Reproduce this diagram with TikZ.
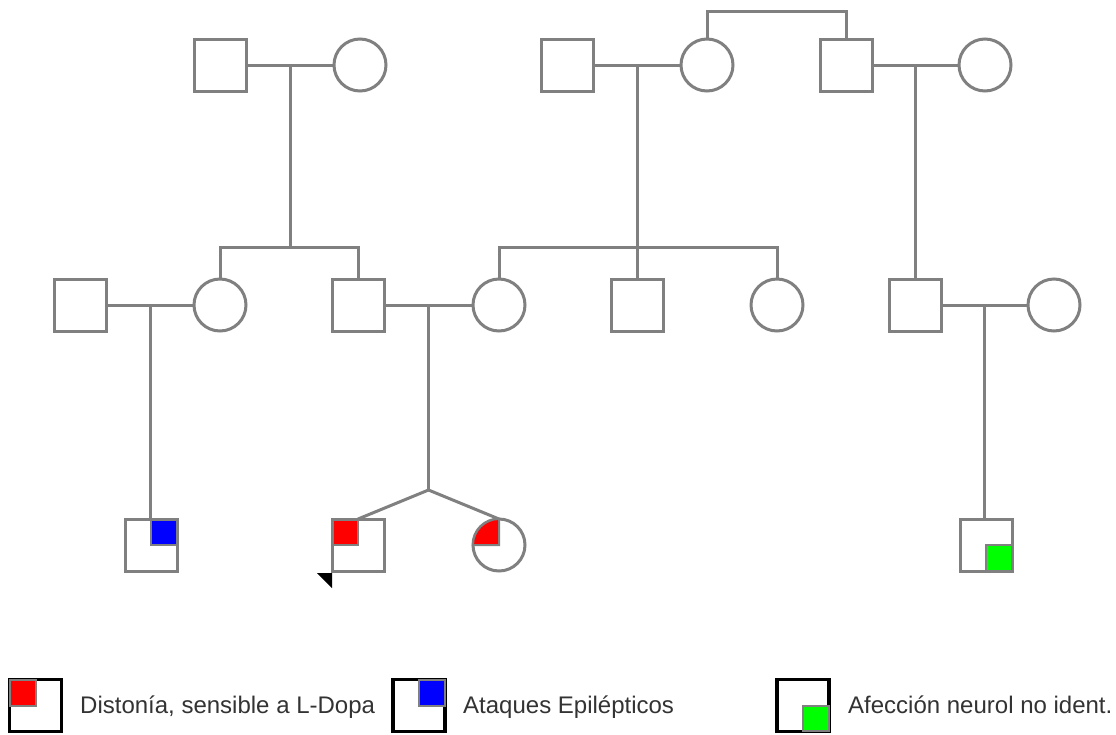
\documentclass[tikz,border=0pt]{standalone}
\usepackage{fontspec}
\setmainfont{Liberation Sans}
\usetikzlibrary{calc}
\definecolor{lg}{HTML}{808080}
\definecolor{txt}{HTML}{333333}
\definecolor{ared}{HTML}{FF0000}
\definecolor{ablue}{HTML}{0000FF}
\definecolor{agreen}{HTML}{00FF00}
\begin{document}
\begin{tikzpicture}[x=1pt,y=-1pt,
  ind/.style={draw=lg, line width=3pt, minimum size=52pt, inner sep=0pt, outer sep=0pt, fill=white},
  male/.style={ind, rectangle},
  female/.style={ind, circle},
  rel/.style={draw=lg, line width=3pt},
  quad/.style={draw=lg, line width=2pt},
  legbox/.style={draw=black, line width=3.5pt, minimum size=52pt, inner sep=0pt, outer sep=0pt},
  legtext/.style={anchor=base west, text=txt, font=\fontsize{24}{28}\selectfont, inner sep=0pt}]
\useasboundingbox (0,0) rectangle (1116,734);
\clip (0,0) rectangle (1116,734);
\fill[white] (0,0) rectangle (1116,734);

% Generation I
\node[male]   (A) at (220,65) {};
\node[female] (B) at (360,65) {};
\node[male]   (C) at (567,65) {};
\node[female] (D) at (707,65) {};
\node[male]   (E) at (846,65) {};
\node[female] (F) at (985,65) {};

% Generation II
\node[male]   (H) at (80,305) {};
\node[female] (I) at (220,305) {};
\node[male]   (J) at (358,305) {};
\node[female] (K) at (499,305) {};
\node[male]   (L) at (637,305) {};
\node[female] (M) at (777,305) {};
\node[male]   (G) at (915,305) {};
\node[female] (N) at (1054,305) {};

% Generation III
\node[male]   (P) at (151,545) {};
\node[male]   (Q) at (358,545) {};
\node[female] (R) at (499,545) {};
\node[male]   (S) at (986,545) {};

% couples
\draw[rel] (A.east) -- (B.west);
\draw[rel] (C.east) -- (D.west);
\draw[rel] (E.east) -- (F.west);
\draw[rel] (H.east) -- (I.west);
\draw[rel] (J.east) -- (K.west);
\draw[rel] (G.east) -- (N.west);

\coordinate (ab) at ($(A.east)!.5!(B.west)$);
\coordinate (cd) at ($(C.east)!.5!(D.west)$);
\coordinate (ef) at ($(E.east)!.5!(F.west)$);
\coordinate (hi) at ($(H.east)!.5!(I.west)$);
\coordinate (jk) at ($(J.east)!.5!(K.west)$);
\coordinate (gn) at ($(G.east)!.5!(N.west)$);
\coordinate (s1) at ($(ab)+(0,182)$);
\coordinate (s2) at ($(cd)+(0,182)$);
\coordinate (tw) at ($(jk)+(0,185)$);

% sibship of D and E
\draw[rel] (D.north) -- ++(0,-28) -| (E.north);

% descent lines
\draw[rel] (ab) -- (s1);
\draw[rel] (I.north) |- (s1) -| (J.north);
\draw[rel] (cd) -- (s2);
\draw[rel] (K.north) |- (s2) -| (M.north);
\draw[rel] (s2) -- (s2 -| L.north) -- (L.north);
\draw[rel] (ef) -- (ef |- G.north);
\draw[rel] (hi) -- (hi |- P.north);
\draw[rel] (jk) -- (tw);
\draw[rel] (tw) -- (Q.north);
\draw[rel] (tw) -- (R.north);
\draw[rel] (gn) -- (gn |- S.north);

% affection markers
\draw[quad, fill=ablue] (P.center) rectangle ($(P.north east)+(-0.5,0.5)$);
\draw[quad, fill=ared] (Q.center) rectangle ($(Q.north west)+(0.5,0.5)$);
\draw[quad, fill=ared] (R.center) -- (R.west) arc[start angle=180, end angle=270, radius=26] -- cycle;
\draw[quad, fill=agreen] (S.center) rectangle ($(S.south east)+(-0.5,-0.5)$);

% proband arrow head
\fill[black] ($(Q.south west)+(-15,2)$) -- ($(Q.south west)+(0,2)$) -- ($(Q.south west)+(0,17)$) -- cycle;

% legend
\node[legbox] (L1) at (35.5,705.5) {};
\draw[quad, fill=ared] ($(L1.north west)+(0.5,0.5)$) rectangle (L1.center);
\node[legtext] (T1) at (80,713) {Distonía, sensible a L-Dopa};

\node[legbox] (L2) at (419,705.5) {};
\draw[quad, fill=ablue] ($(L2.north east)+(-0.5,0.5)$) rectangle (L2.center);
\node[legtext] (T2) at (463,713) {Ataques Epilépticos};

\node[legbox] (L3) at (803,705.5) {};
\draw[quad, fill=agreen] ($(L3.south east)+(-0.5,-0.5)$) rectangle (L3.center);
\node[legtext] (T3) at (848,713) {Afección neurol no ident.};
\end{tikzpicture}
\end{document}
